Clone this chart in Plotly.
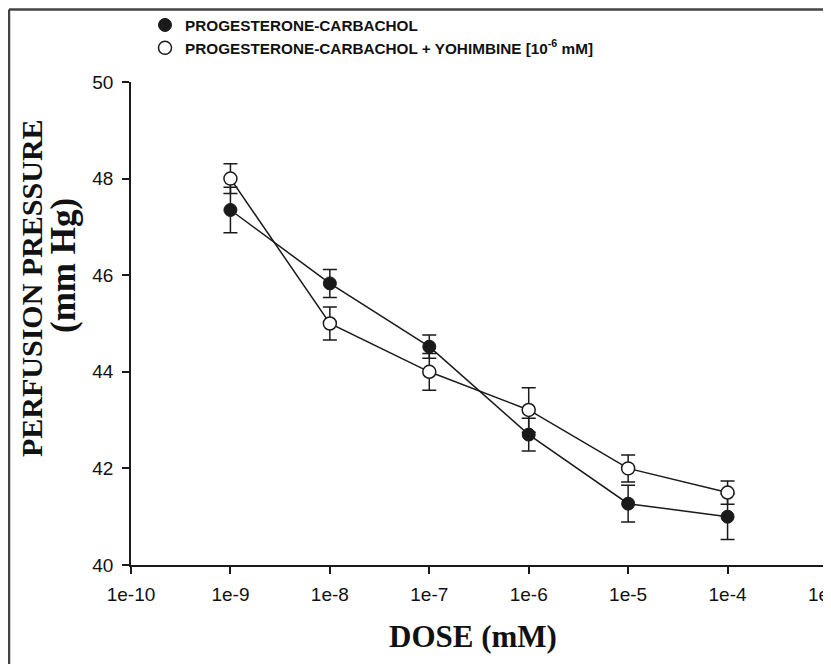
import plotly.graph_objects as go

doses = [1e-9, 1e-8, 1e-7, 1e-6, 1e-5, 1e-4]
prog_carb = [47.35, 45.83, 44.52, 42.70, 41.27, 41.00]
prog_carb_err = [0.47, 0.29, 0.24, 0.34, 0.38, 0.47]
prog_carb_yoh = [48.00, 45.00, 44.00, 43.21, 42.00, 41.50]
prog_carb_yoh_err = [0.31, 0.34, 0.38, 0.46, 0.28, 0.24]

x_tickvals = [1e-10, 1e-9, 1e-8, 1e-7, 1e-6, 1e-5, 1e-4, 1e-3]
x_ticktext = ["1e-10", "1e-9", "1e-8", "1e-7", "1e-6", "1e-5", "1e-4", "1e-3"]
y_tickvals = [40, 42, 44, 46, 48, 50]

name1 = "PROGESTERONE-CARBACHOL"
name2 = "PROGESTERONE-CARBACHOL + YOHIMBINE [10<sup>-6</sup> mM]"

# page body margin offset (browser default)
OFF = 8
W, H = 831 - OFF, 664 - OFF
PL, PR, PT, PB = 131 - OFF, 827 - OFF, 82 - OFF, 565 - OFF  # plot area in figure px
PW, PH = PR - PL, PB - PT


def px(xp):
    return (xp - OFF - PL) / PW


def py(yp):
    return (PB - (yp - OFF)) / PH


ink = "#1a1a1a"
fig = go.Figure()

fig.add_trace(go.Scatter(
    x=doses, y=prog_carb, mode="lines+markers", showlegend=False,
    line=dict(color=ink, width=1.5),
    marker=dict(symbol="circle", size=13, color=ink, line=dict(color=ink, width=1)),
    error_y=dict(type="data", array=prog_carb_err, color=ink, thickness=1.5, width=7),
))
fig.add_trace(go.Scatter(
    x=doses, y=prog_carb_yoh, mode="lines+markers", showlegend=False,
    line=dict(color=ink, width=1.5),
    marker=dict(symbol="circle", size=13, color="white", line=dict(color=ink, width=1.5)),
    error_y=dict(type="data", array=prog_carb_yoh_err, color=ink, thickness=1.5, width=7),
))
# legend-only entries (markers only)
fig.add_trace(go.Scatter(
    x=[None], y=[None], mode="markers", name=name1,
    marker=dict(symbol="circle", size=13, color=ink, line=dict(color=ink, width=1)),
))
fig.add_trace(go.Scatter(
    x=[None], y=[None], mode="markers", name=name2,
    marker=dict(symbol="circle", size=13, color="white", line=dict(color=ink, width=1.5)),
))

sans = "Liberation Sans, Arial, sans-serif"
fig.update_layout(
    width=W, height=H,
    margin=dict(l=PL, r=W - PR, t=PT, b=H - PB, autoexpand=False),
    paper_bgcolor="white", plot_bgcolor="white",
    font=dict(family=sans, color="#111"),
    showlegend=True,
    legend=dict(
        x=px(145), y=py(8.5), xanchor="left", yanchor="top",
        bgcolor="rgba(0,0,0,0)",
        font=dict(family=sans, size=15.3, color="#111", weight="bold"),
        tracegroupgap=0, itemsizing="trace",
    ),
    xaxis=dict(
        type="log", range=[-10, -3],
        tickvals=x_tickvals, ticktext=x_ticktext,
        showline=True, linecolor=ink, linewidth=1.5,
        ticks="outside", ticklen=7, tickwidth=1.5, tickcolor=ink,
        showgrid=False, zeroline=False, ticklabelstandoff=4,
        ticklabeloverflow="allow", automargin=False,
        tickfont=dict(size=19, family=sans, color="#111"),
    ),
    yaxis=dict(
        range=[40, 50], tickvals=y_tickvals,
        showline=True, linecolor=ink, linewidth=1.5,
        ticks="outside", ticklen=7, tickwidth=1.5, tickcolor=ink,
        showgrid=False, zeroline=False, ticklabelstandoff=5, automargin=False,
        tickfont=dict(size=19, family=sans, color="#111"),
    ),
)

serif = "Liberation Serif, Times New Roman, serif"
fig.add_annotation(
    text="<b>DOSE (mM)</b>", xref="paper", yref="paper",
    x=px(473), y=py(636), xanchor="center", yanchor="middle", showarrow=False,
    font=dict(family=serif, size=31, color="#111"),
)
fig.add_annotation(
    text="<b>PERFUSION PRESSURE</b>", xref="paper", yref="paper",
    x=px(31), y=py(288), xanchor="center", yanchor="middle", showarrow=False, textangle=-90,
    font=dict(family=serif, size=30, color="#111"),
)
fig.add_annotation(
    text="<b>(mm Hg)</b>", xref="paper", yref="paper",
    x=px(63), y=py(266), xanchor="center", yanchor="middle", showarrow=False, textangle=-90,
    font=dict(family=serif, size=35, color="#111"),
)

# outer frame lines (top and left)
fx = px(9)
fy = py(9.5)
fig.add_shape(type="line", xref="paper", yref="paper", x0=fx, x1=px(840), y0=fy, y1=fy,
              line=dict(color="#444", width=2.5))
fig.add_shape(type="line", xref="paper", yref="paper", x0=fx, x1=fx, y0=py(680), y1=fy,
              line=dict(color="#444", width=2.5))

fig.write_html("out.html")
